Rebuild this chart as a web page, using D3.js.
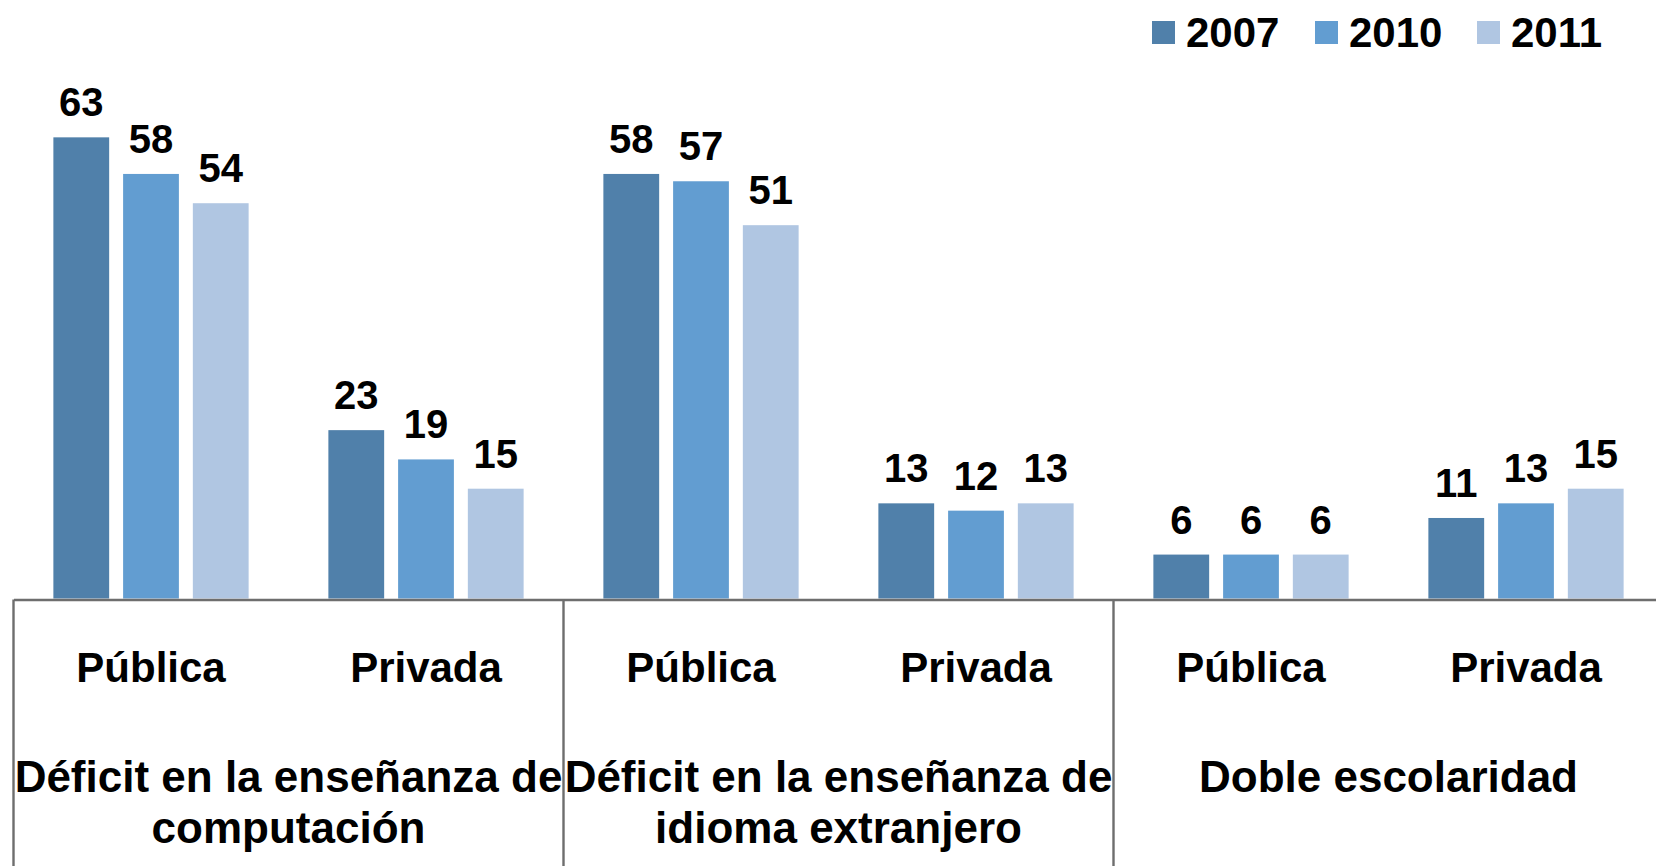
<!DOCTYPE html>
<html>
<head>
<meta charset="utf-8">
<script src="https://cdn.jsdelivr.net/npm/d3@7"></script>
<style>
  body { margin: 0; background: #fff; }
  svg text { font-family: "Liberation Sans", Arial, sans-serif; font-weight: bold; fill: #000; }
</style>
</head>
<body>
<svg width="1656" height="866"></svg>
<script>
// data
var groupLines = [
  ["Déficit en la enseñanza de", "computación"],
  ["Déficit en la enseñanza de", "idioma extranjero"],
  ["Doble escolaridad"]
];
var sectors = ["Pública", "Privada"];
var years = ["2007", "2010", "2011"];
var values2007 = [63, 23, 58, 13, 6, 11];
var values2010 = [58, 19, 57, 12, 6, 13];
var values2011 = [54, 15, 51, 13, 6, 15];
var colors = ["#5080AA", "#629DD1", "#B0C6E2"];

// build rows: one per group/sector category
var cats = [];
groupLines.forEach(function(g, gi){
  sectors.forEach(function(s){ cats.push(gi + "|" + s); });
});
var rows = cats.map(function(c, i){
  return {cat: c, values: [values2007[i], values2010[i], values2011[i]]};
});

var svg = d3.select("svg"),
    left = 13.5,
    catW = 275,
    baseY = 598.5;

var x0 = d3.scaleBand()
  .domain(cats)
  .range([left, left + catW * cats.length])
  .paddingInner(0.29)
  .paddingOuter(0.145);

var x1 = d3.scaleBand()
  .domain(years)
  .range([0, x0.bandwidth()])
  .paddingInner(0.2);

var y = d3.scaleLinear()
  .domain([0, 70])
  .range([baseY, baseY - 70 * 7.32]);

var z = d3.scaleOrdinal().domain(years).range(colors);

// bars
var cat = svg.selectAll(".cat")
  .data(rows)
  .enter().append("g")
    .attr("class", "cat")
    .attr("transform", function(d){ return "translate(" + x0(d.cat) + ",0)"; });

cat.selectAll("rect")
  .data(function(d){ return d.values.map(function(v, i){ return {year: years[i], value: v}; }); })
  .enter().append("rect")
    .attr("x", function(d){ return x1(d.year); })
    .attr("y", function(d){ return y(d.value); })
    .attr("width", x1.bandwidth())
    .attr("height", function(d){ return baseY - y(d.value); })
    .attr("fill", function(d){ return z(d.year); });

cat.selectAll("text.val")
  .data(function(d){ return d.values.map(function(v, i){ return {year: years[i], value: v}; }); })
  .enter().append("text")
    .attr("class", "val")
    .attr("x", function(d){ return x1(d.year) + x1.bandwidth() / 2; })
    .attr("y", function(d){ return y(d.value) - 21; })
    .attr("text-anchor", "middle")
    .style("font-size", "40px")
    .text(function(d){ return d.value; });

// category axis (Pública / Privada)
var axisScale = d3.scaleBand().domain(cats).range([left, left + catW * cats.length]);
var axis = svg.append("g")
  .attr("class", "axis")
  .attr("transform", "translate(0," + (baseY + 1) + ")")
  .call(d3.axisBottom(axisScale).tickSize(0).tickPadding(0)
    .tickFormat(function(c){ return c.split("|")[1]; }));
axis.select(".domain").attr("stroke", "#6E6E6E").attr("stroke-width", 2.4);
axis.selectAll(".tick text")
  .attr("dy", null)
  .attr("y", 82)
  .style("font-size", "42px");

// group separators
var groupW = catW * sectors.length;
var seps = d3.range(groupLines.length + 1).map(function(i){ return left + i * groupW; });
svg.selectAll(".sep")
  .data(seps)
  .enter().append("line")
    .attr("class", "sep")
    .attr("x1", function(d){ return d; })
    .attr("x2", function(d){ return d; })
    .attr("y1", baseY + 1)
    .attr("y2", 866)
    .attr("stroke", "#6E6E6E")
    .attr("stroke-width", 2.4);

// group labels
var gl = svg.selectAll(".glabel")
  .data(groupLines)
  .enter().append("text")
    .attr("class", "glabel")
    .attr("text-anchor", "middle")
    .style("font-size", "44px");
gl.selectAll("tspan")
  .data(function(d, i){ return d.map(function(t){ return {t: t, gi: i}; }); })
  .enter().append("tspan")
    .attr("x", function(d){ return left + d.gi * groupW + groupW / 2; })
    .attr("y", function(d, j){ return 792 + j * 51; })
    .text(function(d){ return d.t; });

// legend
var legX = [1152, 1315, 1477];
var leg = svg.selectAll(".leg")
  .data(years)
  .enter().append("g")
    .attr("class", "leg")
    .attr("transform", function(d, i){ return "translate(" + legX[i] + ",0)"; });
leg.append("rect")
  .attr("y", 21)
  .attr("width", 23)
  .attr("height", 23)
  .attr("fill", function(d){ return z(d); });
leg.append("text")
  .attr("x", 34)
  .attr("y", 47)
  .style("font-size", "42px")
  .text(function(d){ return d; });
</script>
</body>
</html>
